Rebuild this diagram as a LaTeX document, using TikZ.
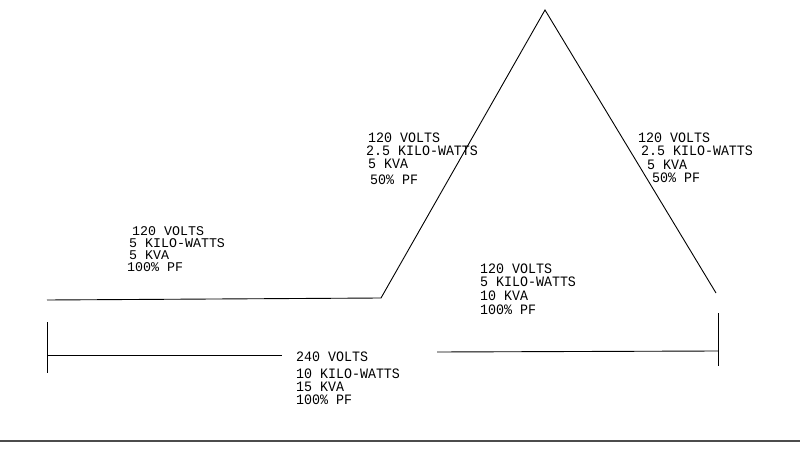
\documentclass[tikz,border=0pt]{standalone}
\usepackage{fontspec}
\usepackage{graphicx}
\setmonofont{Liberation Mono}
\newcommand{\tallt}[1]{\scalebox{1}[1.08]{#1}}
\begin{document}
\begin{tikzpicture}[x=1pt,y=-1pt,
  wire/.style={line width=0.9pt,black},
  lbl/.style={anchor=base west,inner sep=0pt,text height=9pt,text depth=0.5pt,font=\ttfamily\fontsize{13.3}{15}\selectfont},
  edge/.style={line width=1.2pt,black!70}]
\useasboundingbox (0,0) rectangle (800,462);
% wire path
\coordinate (L) at (47,300);
\coordinate (K) at (381,298);
\coordinate (A) at (545,10);
\coordinate (R) at (716,293);
\draw[wire] (L) -- (K) -- (A) -- (R);
% extension ticks
\coordinate (t1a) at (47,322); \coordinate (t1b) at (47,373);
\coordinate (t2a) at (718,313); \coordinate (t2b) at (718,366);
\draw[wire] (t1a) -- (t1b);
\draw[wire] (t2a) -- (t2b);
% dimension line
\coordinate (d1) at (47,355); \coordinate (d2) at (282,355);
\coordinate (d3) at (437,352); \coordinate (d4) at (718,351);
\draw[wire] (d1) -- (d2);
\draw[wire] (d3) -- (d4);
% block 1
\node[lbl] (a1) at (368,143) {\tallt{120 VOLTS}};
\node[lbl] (a2) at (366,156) {\tallt{2.5 KILO-WATTS}};
\node[lbl] (a3) at (368,169) {\tallt{5 KVA}};
\node[lbl] (a4) at (370,185) {\tallt{50\% PF}};
% block 2
\node[lbl] (b1) at (638,143) {\tallt{120 VOLTS}};
\node[lbl] (b2) at (641,156) {\tallt{2.5 KILO-WATTS}};
\node[lbl] (b3) at (647,170) {\tallt{5 KVA}};
\node[lbl] (b4) at (652,183) {\tallt{50\% PF}};
% block 3
\node[lbl] (c1) at (132,236) {120 VOLTS};
\node[lbl] (c2) at (129,248) {5 KILO-WATTS};
\node[lbl] (c3) at (129,260) {5 KVA};
\node[lbl] (c4) at (127,272) {100\% PF};
% block 4
\node[lbl] (e1) at (480,273) {\tallt{120 VOLTS}};
\node[lbl] (e2) at (480,287) {\tallt{5 KILO-WATTS}};
\node[lbl] (e3) at (480,301) {\tallt{10 KVA}};
\node[lbl] (e4) at (480,314) {\tallt{100\% PF}};
% block 5
\node[lbl] (f1) at (296,361) {\tallt{240 VOLTS}};
\node[lbl] (f2) at (296,378) {\tallt{10 KILO-WATTS}};
\node[lbl] (f3) at (296,391) {\tallt{15 KVA}};
\node[lbl] (f4) at (296,404) {\tallt{100\% PF}};
% page edge
\coordinate (p1) at (0,441); \coordinate (p2) at (800,441);
\draw[edge] (p1) -- (p2);
\end{tikzpicture}
\end{document}
